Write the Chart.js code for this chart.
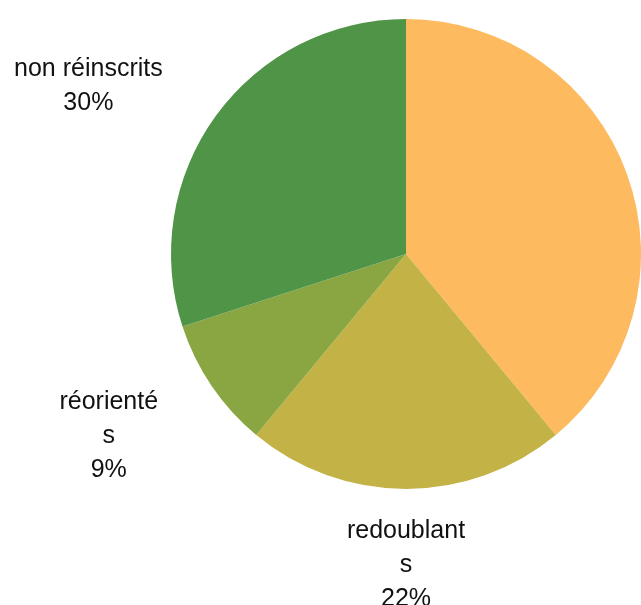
<!DOCTYPE html>
<html>
<head>
<meta charset="utf-8">
<script src="https://cdn.jsdelivr.net/npm/chart.js@4"></script>
<style>
  html,body{margin:0;padding:0;background:#fff;}
  #wrap{width:641px;height:605px;}
</style>
</head>
<body>
<div id="wrap"><canvas id="pie"></canvas></div>
<script>
// data
const categories = ['admis', 'redoublants', 'réorientés', 'non réinscrits'];
const shares = [39, 22, 9, 30];
// label text as wrapped in the picture
const labelLines = [['admis'], ['redoublant', 's'], ['réorienté', 's'], ['non réinscrits']];
const sliceColors = ['#FDBA5E', '#C3B246', '#8AA642', '#4F9447'];

const FONT = '25px "Liberation Sans", Arial, sans-serif';
const LINE_H = 34;

// outside labels, placed from each arc's mid angle
const outsideLabels = {
  id: 'outsideLabels',
  afterDraw(chart){
    const ctx = chart.ctx;
    const meta = chart.getDatasetMeta(0);
    ctx.save();
    ctx.font = FONT;
    ctx.fillStyle = '#111';
    ctx.textBaseline = 'middle';
    meta.data.forEach((arc, i) => {
      const p = arc.getProps(['x','y','startAngle','endAngle','outerRadius'], true);
      const mid = (p.startAngle + p.endAngle) / 2;
      const dx = Math.cos(mid), dy = Math.sin(mid);
      const px = p.x + dx * (p.outerRadius + 20);
      const py = p.y + dy * (p.outerRadius + 20);
      const lines = labelLines[i].concat([shares[i] + '%']);
      const w = Math.max(...lines.map(l => ctx.measureText(l).width));
      const h = lines.length * LINE_H;
      const side = Math.abs(dx) > 0.3;
      let cx = px;
      if (dx < -0.3) cx = px - 37 - w / 2;
      else if (dx > 0.3) cx = px + 37 + w / 2;
      const cy = py + dy * h / 2 * (side ? 1.17 : 1.1) + (side ? 5 : 0);
      ctx.textAlign = 'center';
      lines.forEach((l, k) => {
        ctx.fillText(l, cx, cy - h / 2 + LINE_H / 2 + k * LINE_H);
      });
    });
    ctx.restore();
  }
};

new Chart(document.getElementById('pie'), {
  type: 'pie',
  data: {
    labels: categories,
    datasets: [{ data: shares, backgroundColor: sliceColors, borderWidth: 0 }]
  },
  options: {
    responsive: true,
    maintainAspectRatio: false,
    animation: false,
    layout: { padding: { left: 171, right: -2, top: 18, bottom: 115 } },
    plugins: { legend: { display: false }, tooltip: { enabled: false } }
  },
  plugins: [outsideLabels]
});
</script>
</body>
</html>
